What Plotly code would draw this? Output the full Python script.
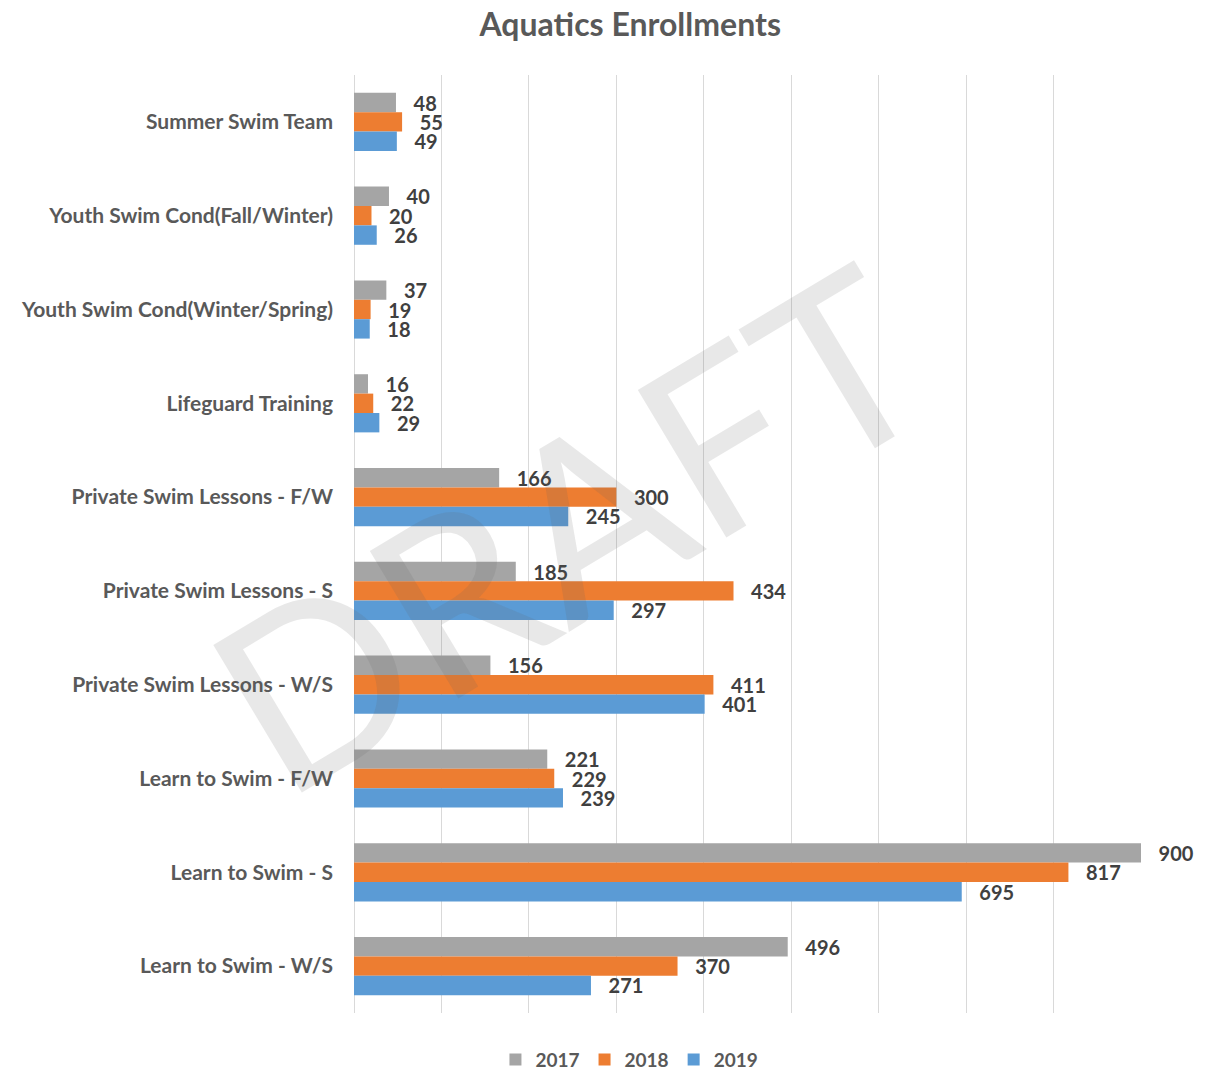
import plotly.graph_objects as go

# ---- data ----
categories = [
    "Summer Swim Team",
    "Youth Swim Cond(Fall/Winter)",
    "Youth Swim Cond(Winter/Spring)",
    "Lifeguard Training",
    "Private Swim Lessons - F/W",
    "Private Swim Lessons - S",
    "Private Swim Lessons - W/S",
    "Learn to Swim - F/W",
    "Learn to Swim - S",
    "Learn to Swim - W/S",
]
years = ["2017", "2018", "2019"]
vals_2017 = [48, 40, 37, 16, 166, 185, 156, 221, 900, 496]
vals_2018 = [55, 20, 19, 22, 300, 434, 411, 229, 817, 370]
vals_2019 = [49, 26, 18, 29, 245, 297, 401, 239, 695, 271]
colors = ["#a5a5a5", "#ed7d31", "#5b9bd5"]

FONT = "Lato"
TXT = "#404040"

fig = go.Figure()
for name, vals, col in zip(years, [vals_2017, vals_2018, vals_2019], colors):
    fig.add_bar(
        y=categories, x=vals, name=name, orientation="h",
        marker=dict(color=col, line=dict(width=0)),
        text=vals, texttemplate="\u00a0\u00a0\u00a0%{x}",
        textposition="outside", cliponaxis=False, constraintext="none",
        textfont=dict(family=FONT, size=20, color=TXT, weight="bold"),
    )

# watermark
fig.add_annotation(
    text="DRAFT", xref="paper", yref="paper", x=0.27, y=0.52,
    xanchor="center", yanchor="middle", showarrow=False, textangle=-31,
    font=dict(family=FONT, size=240, color="rgba(100,100,100,0.15)"),
)

fig.update_layout(
    width=1220, height=1073,
    paper_bgcolor="white", plot_bgcolor="white",
    margin=dict(l=346, r=87, t=67, b=68),
    barmode="group", bargap=0.38, bargroupgap=0,
    title=dict(text="<b>Aquatics Enrollments</b>", x=0.51, xanchor="center",
               y=0.984, yanchor="middle",
               font=dict(family=FONT, size=32, color="#595959")),
    xaxis=dict(range=[0, 900], dtick=100, showticklabels=False,
               showgrid=True, gridcolor="#d9d9d9", gridwidth=1,
               zeroline=True, zerolinecolor="#d9d9d9", zerolinewidth=1),
    yaxis=dict(autorange="reversed", showgrid=False, ticks="", ticklen=0,
               ticklabelstandoff=20,
               tickfont=dict(family=FONT, size=21, color="#595959", weight="bold")),
    legend=dict(orientation="h", x=0.35, xanchor="center",
                yref="container", y=0.02, yanchor="middle",
                font=dict(family=FONT, size=19, color="#595959", weight="bold"),
                itemwidth=30),
    showlegend=True,
)

fig.write_html("out.html")
